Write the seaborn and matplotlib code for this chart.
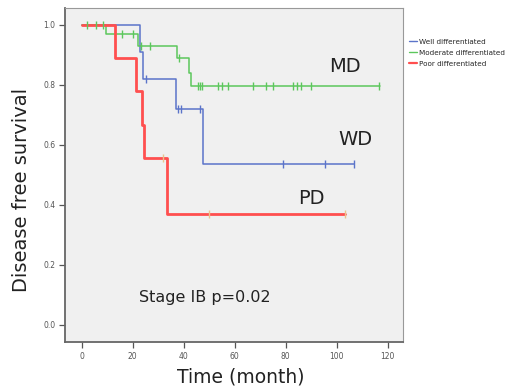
import numpy as np
import pandas as pd
import matplotlib
matplotlib.use("Agg")
import matplotlib.pyplot as plt
import seaborn as sns

# ---- data ----
wd_times = [0, 23.0, 24.2, 36.9, 47.4, 106.8]
wd_surv = [1.0, 0.909, 0.818, 0.718, 0.536, 0.536]
wd_cens = [25.2, 37.6, 38.8, 46.4, 78.8, 95.4, 106.8]

md_times = [0, 9.5, 22.0, 37.2, 42.2, 43.0, 116.8]
md_surv = [1.0, 0.967, 0.930, 0.887, 0.838, 0.795, 0.795]
md_cens = [2.2, 5.6, 8.5, 15.7, 20.2, 23.2, 26.8, 38.0, 45.7, 46.4, 47.1,
           53.6, 54.9, 57.5, 67.0, 72.3, 75.1, 82.7, 84.3, 85.9, 89.8, 116.5]

pd_times = [0, 13.0, 21.2, 23.5, 24.3, 33.6, 103.3]
pd_surv = [1.0, 0.889, 0.778, 0.667, 0.556, 0.370, 0.370]
pd_cens = [32.0, 50.0, 103.3]

group_names = ["Well differentiated", "Moderate differentiated", "Poor differentiated"]
curve_labels = ["WD", "MD", "PD"]
x_ticks = [0, 20, 40, 60, 80, 100, 120]
y_ticks = [0.0, 0.2, 0.4, 0.6, 0.8, 1.0]

sns.set_style("white")
plt.rcParams["font.family"] = ["DejaVu Sans"]

fig = plt.figure(figsize=(5.17, 3.90), dpi=100)
ax = fig.add_axes([0.1257, 0.123, 0.6538, 0.8565])
ax.set_facecolor("#F0F0F0")

colors = ["#5B74C9", "#5CC75C", "#FF4F4F"]
widths = [1.1, 1.1, 2.0]
cens_colors = ["#5B74C9", "#5CC75C", "#E9C48E"]
series = [(wd_times, wd_surv, wd_cens), (md_times, md_surv, md_cens), (pd_times, pd_surv, pd_cens)]

for (t, s, c), name, col, lw, cc in zip(series, group_names, colors, widths, cens_colors):
    df = pd.DataFrame({"time": t, "surv": s})
    sns.lineplot(data=df, x="time", y="surv", drawstyle="steps-post", color=col,
                 linewidth=lw, ax=ax, label=name, estimator=None, sort=False)
    idx = np.searchsorted(np.array(t), np.array(c), side="right") - 1
    cdf = pd.DataFrame({"time": c, "surv": np.array(s)[idx]})
    sns.scatterplot(data=cdf, x="time", y="surv", marker="|", s=30, color=cc,
                    linewidth=1.0, ax=ax, legend=False, zorder=4)

ax.set_xlim(-6.55, 126)
ax.set_ylim(-0.057, 1.055)
ax.set_xticks(x_ticks)
ax.set_yticks(y_ticks)
ax.set_xticklabels([str(v) for v in x_ticks], fontsize=5.5, color="#555555")
ax.set_yticklabels([f"{v:.1f}" for v in y_ticks], fontsize=5.5, color="#555555")
ax.tick_params(axis="both", direction="out", length=4, width=0.9, color="#555555",
               bottom=True, left=True, pad=3)
for side in ["left", "bottom"]:
    ax.spines[side].set_color("#666666")
    ax.spines[side].set_linewidth(1.3)
for side in ["right", "top"]:
    ax.spines[side].set_color("#999999")
    ax.spines[side].set_linewidth(0.8)
ax.set_xlabel("")
ax.set_ylabel("")

ax.text(103.3, 0.86, curve_labels[1], fontsize=14, ha="center", va="center", color="#222222")
ax.text(107.2, 0.616, curve_labels[0], fontsize=14, ha="center", va="center", color="#222222")
ax.text(90.2, 0.42, curve_labels[2], fontsize=14, ha="center", va="center", color="#222222")
ax.text(48.4, 0.09, "Stage IB p=0.02", fontsize=11.5, ha="center", va="center", color="#222222")

fig.text(241 / 517, 1 - 377 / 390, "Time (month)", fontsize=13.5, ha="center", va="center", color="#222222")
fig.text(22 / 517, 1 - 190 / 390, "Disease free survival", fontsize=14, ha="center", va="center",
         rotation=90, color="#222222")

leg = ax.legend(loc="upper left", bbox_to_anchor=(405 / 517, 1 - 35 / 390),
                bbox_transform=fig.transFigure, fontsize=5.2, frameon=False,
                handlelength=1.2, handletextpad=0.3, labelspacing=0.7, borderpad=0)
for h, lw in zip(leg.get_lines(), [1.0, 1.0, 1.6]):
    h.set_linewidth(lw)

fig.savefig("out.png", dpi=100, facecolor="white")
